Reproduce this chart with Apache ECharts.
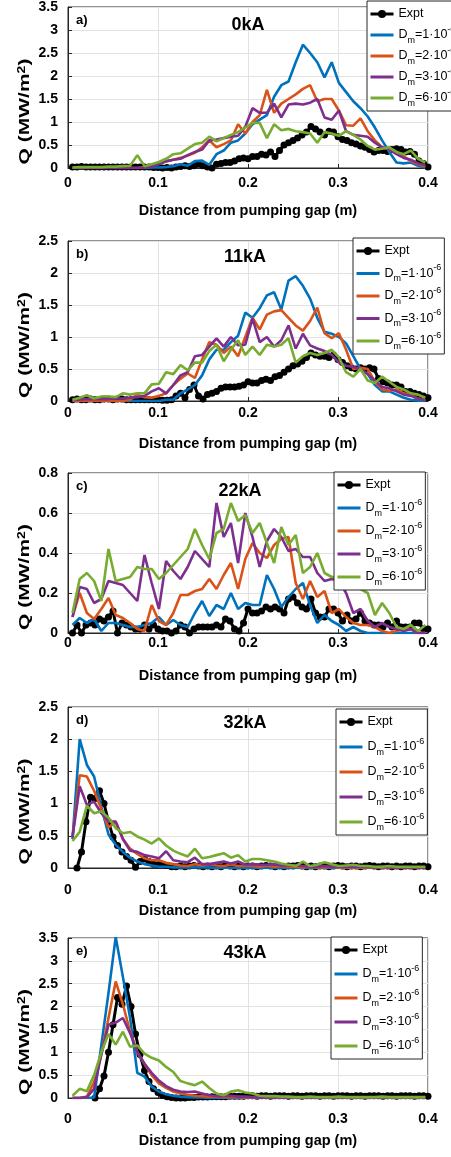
<!DOCTYPE html>
<html><head><meta charset="utf-8">
<script src="https://cdn.jsdelivr.net/npm/echarts@6/dist/echarts.min.js"></script>
<style>html,body{margin:0;padding:0;background:#fff}#c{width:451px;height:1157px}</style>
</head><body><div id="c"></div>
<script>
// ---------- data ----------
const simX = [0.005,0.013,0.021,0.029,0.037,0.045,0.053,0.061,0.069,0.077,0.085,0.093,0.101,0.109,0.117,0.125,0.133,0.141,0.149,0.157,0.165,0.173,0.181,0.189,0.197,0.205,0.213,0.221,0.229,0.237,0.245,0.253,0.261,0.269,0.277,0.285,0.293,0.301,0.309,0.317,0.325,0.333,0.341,0.349,0.357,0.365,0.373,0.381,0.389,0.397];
const exptX = [0.005,0.01,0.015,0.02,0.025,0.03,0.035,0.04,0.045,0.05,0.055,0.06,0.065,0.07,0.075,0.08,0.085,0.09,0.095,0.1,0.105,0.11,0.115,0.12,0.125,0.13,0.135,0.14,0.145,0.15,0.155,0.16,0.165,0.17,0.175,0.18,0.185,0.19,0.195,0.2,0.205,0.21,0.215,0.22,0.225,0.23,0.235,0.24,0.245,0.25,0.255,0.26,0.265,0.27,0.275,0.28,0.285,0.29,0.295,0.3,0.305,0.31,0.315,0.32,0.325,0.33,0.335,0.34,0.345,0.35,0.355,0.36,0.365,0.37,0.375,0.38,0.385,0.39,0.395,0.4];

const panelTitles = ['0kA','11kA','22kA','32kA','43kA'];
const panelLetters = ['a)','b)','c)','d)','e)'];
const yMax = [3.5,2.5,0.8,2.5,3.5];
const yStep = [0.5,0.5,0.2,0.5,0.5];
const seriesNames = ['Expt','Dm=1e-6','Dm=2e-6','Dm=3e-6','Dm=6e-6'];
const legendText = ['Expt','D{sub|m}=1·10{sup|-6}','D{sub|m}=2·10{sup|-6}','D{sub|m}=3·10{sup|-6}','D{sub|m}=6·10{sup|-6}'];
const xName = 'Distance from pumping gap (m)';
const yName = 'Q (MW/m{sup|2})';

// panel a (0kA)
const exptA = [0.02,0.02,0.03,0.02,0.02,0.02,0.02,0.02,0.02,0.02,0.02,0.02,0.02,0.02,0.02,0.02,0.02,0.02,0.01,0.01,0.0,0.01,0.0,0.02,0.03,0.05,0.03,0.05,0.08,0.05,0.02,0.0,0.08,0.1,0.12,0.12,0.15,0.2,0.22,0.2,0.25,0.25,0.3,0.28,0.35,0.25,0.38,0.5,0.55,0.6,0.65,0.72,0.78,0.9,0.85,0.78,0.72,0.8,0.78,0.68,0.62,0.6,0.55,0.52,0.48,0.45,0.4,0.35,0.38,0.38,0.36,0.4,0.42,0.4,0.35,0.36,0.3,0.15,0.1,0.02];
const d1A = [0,0,0,0,0,0,0,0,0,0,0,0.01,0.01,0.02,0.04,0.08,0.05,0.15,0.16,0.07,0.3,0.38,0.55,0.6,0.75,0.95,1.05,1.15,1.55,1.8,1.88,2.3,2.68,2.5,2.3,1.97,2.3,1.85,1.65,1.45,1.3,1.12,0.88,0.6,0.35,0.12,0.1,0.12,0.05,0.01];
const d2A = [0,0,0,0,0,0,0,0,0,0,0.02,0.05,0.09,0.14,0.18,0.22,0.27,0.33,0.45,0.6,0.45,0.52,0.6,0.95,0.75,1.0,1.15,1.7,1.2,1.4,1.5,1.6,1.72,1.8,1.45,1.5,1.5,1.25,0.93,0.92,1.08,0.8,0.6,0.45,0.4,0.35,0.25,0.15,0.08,0.03];
const d3A = [0,0,0,0,0,0,0,0,0,0,0.01,0.03,0.08,0.15,0.18,0.2,0.28,0.35,0.4,0.6,0.62,0.65,0.68,0.7,0.9,1.3,1.2,1.2,1.4,1.1,1.38,1.4,1.38,1.42,1.5,1.1,1.05,1.25,0.8,0.72,0.7,0.68,0.55,0.45,0.4,0.3,0.22,0.18,0.1,0.06];
const d6A = [0.01,0.02,0.02,0.02,0.02,0.03,0.03,0.04,0.05,0.28,0.04,0.08,0.13,0.2,0.3,0.32,0.42,0.52,0.55,0.68,0.58,0.65,0.72,0.78,0.88,0.98,0.98,0.65,0.95,0.82,0.85,0.8,0.78,0.75,0.55,0.78,0.75,0.7,0.8,0.72,0.62,0.48,0.4,0.42,0.45,0.35,0.3,0.38,0.2,0.12];

// panel b (11kA)
const exptB = [0.02,0.03,0.02,0.02,0.03,0.02,0.02,0.03,0.03,0.02,0.03,0.03,0.02,0.02,0.02,0.02,0.02,0.02,0.02,0.02,0.01,0.01,0.02,0.08,0.12,0.05,0.18,0.25,0.08,0.03,0.1,0.12,0.15,0.2,0.22,0.22,0.22,0.23,0.25,0.3,0.28,0.28,0.32,0.34,0.32,0.38,0.4,0.45,0.5,0.55,0.58,0.62,0.68,0.75,0.72,0.7,0.7,0.68,0.72,0.65,0.6,0.55,0.52,0.5,0.52,0.5,0.52,0.5,0.35,0.3,0.28,0.25,0.25,0.22,0.15,0.15,0.12,0.1,0.08,0.05];
const d1B = [0,0,0,0,0,0,0,0,0,0,0,0,0,0.02,0.02,0.12,0.18,0.25,0.4,0.65,0.8,0.8,0.92,1.02,1.38,1.3,1.45,1.65,1.7,1.43,1.88,1.95,1.8,1.6,1.3,1.08,1.05,1.0,0.9,0.7,0.5,0.42,0.25,0.15,0.15,0.1,0.05,0.02,0.01,0.0];
const d2B = [0,0,0,0,0,0,0,0,0.02,0.1,0.06,0.05,0.08,0.12,0.25,0.35,0.43,0.36,0.65,0.92,0.88,0.75,0.85,0.7,1.0,1.3,1.12,1.35,1.4,1.42,1.3,1.18,1.1,1.25,1.46,1.06,0.98,1.06,0.8,0.5,0.52,0.5,0.3,0.18,0.16,0.18,0.12,0.09,0.04,0.01];
const d3B = [0.02,0.02,0.03,0.03,0.03,0.03,0.04,0.04,0.05,0.06,0.08,0.15,0.2,0.12,0.25,0.4,0.45,0.7,0.72,0.85,0.98,0.85,1.0,0.87,0.88,1.29,0.92,1.0,0.85,0.95,1.18,0.82,1.05,0.87,0.82,0.78,0.72,0.6,0.55,0.53,0.5,0.42,0.32,0.22,0.2,0.15,0.1,0.08,0.04,0.01];
const d6B = [0.02,0.05,0.09,0.04,0.07,0.07,0.06,0.12,0.1,0.12,0.12,0.26,0.27,0.45,0.42,0.56,0.48,0.6,0.6,0.78,0.88,0.62,0.8,0.95,0.72,0.85,0.72,0.88,0.85,0.88,0.98,0.6,0.7,0.75,0.72,0.75,0.8,0.68,0.45,0.38,0.5,0.32,0.28,0.38,0.3,0.22,0.18,0.12,0.1,0.05];

// panel c (22kA)
const exptC = [0.0,0.04,0.0,0.04,0.05,0.04,0.07,0.06,0.08,0.11,0.0,0.05,0.04,0.03,0.02,0.02,0.04,0.02,0.04,0.02,0.01,0.01,0.0,0.01,0.04,0.03,0.0,0.02,0.03,0.03,0.03,0.03,0.04,0.03,0.07,0.06,0.02,0.01,0.05,0.12,0.1,0.1,0.11,0.13,0.12,0.13,0.12,0.1,0.17,0.18,0.15,0.13,0.12,0.17,0.1,0.08,0.08,0.12,0.12,0.1,0.06,0.09,0.06,0.07,0.1,0.06,0.05,0.04,0.04,0.03,0.05,0.03,0.06,0.03,0.03,0.03,0.05,0.05,0.02,0.02];
const d1C = [0.04,0.075,0.05,0.07,0.01,0.05,0.05,0.04,0.03,0.03,0.04,0.05,0.08,0.04,0.065,0.04,0.03,0.1,0.16,0.085,0.14,0.12,0.2,0.12,0.15,0.14,0.14,0.29,0.22,0.13,0.18,0.22,0.25,0.14,0.05,0.09,0.06,0.04,0.01,0.03,0.01,0,0,0,0,0,0,0,0,0];
const d2C = [0.08,0.2,0.1,0.07,0.12,0.175,0.09,0.075,0.05,0.02,0.01,0.14,0.06,0.04,0.1,0.19,0.19,0.21,0.22,0.27,0.22,0.29,0.35,0.22,0.37,0.45,0.4,0.375,0.44,0.47,0.48,0.25,0.17,0.26,0.18,0.21,0.1,0.12,0.08,0.05,0.04,0.04,0.03,0.01,0.0,0.01,0.02,0.02,0.0,0.0];
const d3C = [0.08,0.23,0.22,0.15,0.17,0.26,0.25,0.24,0.2,0.16,0.39,0.25,0.12,0.36,0.31,0.27,0.33,0.41,0.37,0.33,0.65,0.48,0.55,0.35,0.6,0.48,0.33,0.46,0.52,0.48,0.41,0.42,0.38,0.38,0.3,0.26,0.27,0.26,0.2,0.1,0.12,0.06,0.03,0.05,0.03,0.02,0.01,0.02,0.0,0.0];
const d6C = [0.1,0.27,0.3,0.26,0.16,0.42,0.26,0.27,0.28,0.33,0.32,0.32,0.27,0.3,0.34,0.38,0.42,0.52,0.44,0.37,0.5,0.52,0.65,0.56,0.59,0.5,0.55,0.45,0.35,0.53,0.44,0.49,0.3,0.33,0.4,0.3,0.28,0.28,0.28,0.25,0.22,0.2,0.09,0.15,0.1,0.03,0.02,0.04,0.01,0.04];

// panel d (32kA)
const exptD = [null,0.0,0.25,0.72,1.1,1.08,1.2,1.0,0.72,0.48,0.35,0.25,0.18,0.12,0.01,0.1,0.14,0.1,0.06,0.05,0.05,0.04,0.02,0.02,0.03,0.02,0.03,0.04,0.03,0.02,0.03,0.02,0.03,0.02,0.04,0.03,0.02,0.03,0.02,0.03,0.03,0.02,0.03,0.04,0.03,0.02,0.03,0.02,0.03,0.03,0.04,0.03,0.02,0.03,0.02,0.03,0.03,0.02,0.03,0.04,0.03,0.02,0.03,0.03,0.02,0.03,0.04,0.03,0.02,0.03,0.03,0.02,0.03,0.02,0.03,0.03,0.02,0.03,0.03,0.02];
const d1D = [0.45,2.0,1.6,1.42,0.95,0.52,0.36,0.25,0.16,0.1,0.06,0.04,0.02,0.02,0.01,0.01,0.01,0.01,0.01,0.01,0,0,0,0,0,0,0,0,0,0,0,0,0,0,0,0,0,0,0,0,0,0,0,0,0,0,0,0,0,0];
const d2D = [0.48,1.44,1.42,1.2,0.92,0.63,0.72,0.45,0.3,0.22,0.15,0.12,0.12,0.08,0.06,0.04,0.03,0.06,0.04,0.06,0.04,0.03,0.05,0.03,0.04,0.03,0.02,0.04,0.02,0.03,0.02,0.02,0.01,0.02,0.01,0.01,0.02,0.01,0.01,0.01,0.01,0.01,0.01,0.01,0.0,0.01,0.0,0.0,0.0,0.0];
const d3D = [0.48,1.27,0.98,1.03,0.85,0.72,0.72,0.45,0.27,0.25,0.2,0.18,0.15,0.26,0.12,0.1,0.09,0.16,0.06,0.06,0.08,0.1,0.07,0.1,0.05,0.06,0.05,0.05,0.06,0.04,0.04,0.04,0.03,0.02,0.02,0.03,0.02,0.02,0.02,0.02,0.02,0.02,0.01,0.02,0.01,0.01,0.01,0.01,0.01,0.01];
const d6D = [0.42,0.56,0.97,0.85,0.88,0.78,0.62,0.54,0.56,0.49,0.44,0.38,0.46,0.35,0.27,0.22,0.18,0.3,0.15,0.17,0.2,0.23,0.16,0.2,0.1,0.14,0.14,0.12,0.1,0.07,0.05,0.03,0.1,0.03,0.05,0.09,0.06,0.03,0.04,0.05,0.03,0.03,0.02,0.02,0.03,0.02,0.02,0.02,0.02,0.02];

// panel e (43kA)
const exptE = [null,null,null,null,null,0.0,0.2,0.48,1.0,1.6,2.2,2.05,2.45,2.0,1.4,0.95,0.6,0.36,0.2,0.12,0.06,0.03,0.01,0.0,0.0,0.0,0.01,0.01,0.02,0.02,0.02,0.03,0.03,0.03,0.03,0.04,0.04,0.04,0.04,0.05,0.05,0.04,0.05,0.05,0.04,0.05,0.05,0.05,0.04,0.05,0.05,0.04,0.05,0.05,0.05,0.04,0.05,0.05,0.04,0.05,0.05,0.05,0.04,0.05,0.05,0.04,0.05,0.05,0.05,0.04,0.05,0.05,0.04,0.05,0.05,0.05,0.04,0.05,0.05,0.04];
const d1E = [0,0,0,0.01,1.15,2.3,3.52,2.65,1.75,0.55,0.47,0.25,0.14,0.08,0.05,0.03,0.02,0.01,0.01,0,0,0,0,0,0,0,0,0,0,0,0,0,0,0,0,0,0,0,0,0,0,0,0,0,0,0,0,0,0,0];
const d2E = [0,0,0.03,0.35,0.95,1.75,2.55,2.05,1.45,1.0,0.75,0.5,0.32,0.22,0.14,0.1,0.07,0.05,0.04,0.03,0.03,0.02,0.02,0.02,0.01,0.01,0.01,0.01,0.01,0.01,0.01,0.01,0.01,0.01,0.01,0.01,0.01,0.01,0.01,0.01,0.01,0.01,0.01,0.01,0.01,0.01,0.01,0.01,0.01,0.01];
const d3E = [0,0,0.02,0.2,0.95,1.6,1.65,1.75,1.42,1.0,0.75,0.55,0.38,0.26,0.18,0.14,0.13,0.14,0.1,0.06,0.04,0.04,0.05,0.03,0.03,0.02,0.01,0.01,0.01,0.01,0.01,0.01,0.01,0.01,0.01,0.01,0.01,0.01,0.01,0.01,0.01,0.01,0.01,0.01,0.01,0.01,0.01,0.01,0.01,0.01];
const d6E = [0.05,0.2,0.15,0.5,1.0,1.4,1.17,1.45,1.12,1.15,0.97,0.88,0.82,0.68,0.57,0.37,0.32,0.28,0.36,0.22,0.1,0.06,0.14,0.17,0.12,0.1,0.05,0.04,0.04,0.03,0.03,0.02,0.02,0.03,0.02,0.02,0.02,0.03,0.02,0.02,0.02,0.02,0.02,0.03,0.02,0.02,0.02,0.02,0.02,0.02];

const panelData = [
  [exptA, d1A, d2A, d3A, d6A],
  [exptB, d1B, d2B, d3B, d6B],
  [exptC, d1C, d2C, d3C, d6C],
  [exptD, d1D, d2D, d3D, d6D],
  [exptE, d1E, d2E, d3E, d6E]
];

// ---------- layout / style ----------
const FONT = 'Liberation Sans, Arial, Helvetica, sans-serif';
const colors = ['#000000','#0072BD','#D95319','#7E2F8E','#77AC30'];
const layout = [
  {top:7,   h:161, lab:8,  legL:367, legT:1,   legGap:1,   titleX:248, titleY:25},
  {top:241, h:160, lab:5,  legL:353, legT:238, legGap:2.5, titleX:245, titleY:257},
  {top:473, h:160, lab:3,  legL:334, legT:472, legGap:3,   titleX:240, titleY:491},
  {top:707, h:161, lab:15, legL:336, legT:709, legGap:5,   titleX:245, titleY:723},
  {top:938, h:160, lab:14, legL:331, legT:937, legGap:4,   titleX:245, titleY:953}
];
const PL = 68, PW = 360;

const legendItems = seriesNames.map((n, s) => s === 0
  ? {name: n, itemStyle: {color: '#000'}}
  : {name: n, itemStyle: {color: 'rgba(0,0,0,0)', borderColor: 'rgba(0,0,0,0)', borderWidth: 0, opacity: 0}});

const grids = [], xAxes = [], yAxes = [], series = [], legends = [], graphics = [];
layout.forEach((L, p) => {
  grids.push({left: PL, top: L.top, width: PW, height: L.h, show: true, borderColor: '#262626', borderWidth: 1, backgroundColor: '#fff', containLabel: false});
  xAxes.push({
    type: 'value', gridIndex: p, min: 0, max: 0.4, interval: 0.1,
    name: xName, nameLocation: 'middle', nameGap: 35,
    nameTextStyle: {fontFamily: FONT, fontSize: 14.5, fontWeight: 'bold', color: '#000'},
    axisLine: {lineStyle: {color: '#262626', width: 1}},
    axisTick: {inside: true, length: 4, lineStyle: {color: '#262626'}},
    axisLabel: {margin: L.lab, fontFamily: FONT, fontSize: 14, fontWeight: 'bold', color: '#000'},
    splitLine: {show: true, lineStyle: {color: '#e2e2e2', width: 1}}
  });
  yAxes.push({
    type: 'value', gridIndex: p, min: 0, max: yMax[p], interval: yStep[p],
    axisLine: {show: true, lineStyle: {color: '#262626', width: 1}},
    axisTick: {show: true, inside: true, length: 4, lineStyle: {color: '#262626'}},
    axisLabel: {margin: 10, fontFamily: FONT, fontSize: 14, fontWeight: 'bold', color: '#000'},
    splitLine: {show: true, lineStyle: {color: '#e2e2e2', width: 1}}
  });
  panelData[p].forEach((ys, s) => {
    const isExpt = s === 0;
    const xs = isExpt ? exptX : simX;
    series.push({
      type: 'line', name: seriesNames[s], xAxisIndex: p, yAxisIndex: p,
      data: xs.map((x, i) => [x, ys[i]]),
      symbol: isExpt ? 'circle' : 'none', symbolSize: 7, showSymbol: isExpt,
      lineStyle: {color: colors[s], width: isExpt ? 3 : 2.6},
      itemStyle: {color: colors[s]},
      clip: true, animation: false, silent: true, z: 2 + s * 0.01
    });
  });
  legends.push({
    left: L.legL, top: L.legT, orient: 'vertical', itemWidth: 23, itemHeight: 10, itemGap: L.legGap,
    padding: [3, 3, 3, 2], backgroundColor: '#fff', borderColor: '#262626', borderWidth: 1,
    selectedMode: false, data: legendItems,
    lineStyle: {width: 3},
    formatter: n => legendText[seriesNames.indexOf(n)],
    textStyle: {fontFamily: FONT, fontSize: 12.5, color: '#000', lineHeight: 20,
      rich: {sub: {fontFamily: FONT, fontSize: 9, color: '#000', verticalAlign: 'bottom'},
             sup: {fontFamily: FONT, fontSize: 9, color: '#000', verticalAlign: 'top'}}},
    z: 10
  });
  graphics.push({type: 'text', x: L.titleX, y: L.titleY, z: 20,
    style: {text: panelTitles[p], fontFamily: FONT, fontSize: 18, fontWeight: 'bold', fill: '#000', align: 'center', verticalAlign: 'middle'}});
  graphics.push({type: 'text', x: 76, y: L.top + 13, z: 20,
    style: {text: panelLetters[p], fontFamily: FONT, fontSize: 13, fontWeight: 'bold', fill: '#000', align: 'left', verticalAlign: 'middle'}});
  graphics.push({type: 'text', x: 25, y: L.top + L.h / 2 + 24, rotation: Math.PI / 2, scaleX: 1.4, z: 20,
    style: {text: yName, fontFamily: FONT, fontSize: 15, fontWeight: 'bold', fill: '#000', align: 'center', verticalAlign: 'middle',
      rich: {sup: {fontFamily: FONT, fontSize: 10, fontWeight: 'bold', fill: '#000', verticalAlign: 'top'}}}});
});

const chart = echarts.init(document.getElementById('c'), null, {renderer: 'canvas', width: 451, height: 1157});
chart.setOption({
  animation: false, backgroundColor: '#fff',
  grid: grids, xAxis: xAxes, yAxis: yAxes, series: series, legend: legends, graphic: graphics
});
</script></body></html>
